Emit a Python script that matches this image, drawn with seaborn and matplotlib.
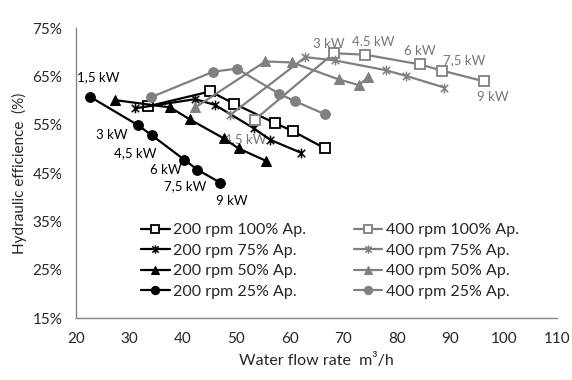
import pandas as pd
import matplotlib
matplotlib.use("Agg")
import matplotlib.pyplot as plt
from matplotlib.path import Path
import seaborn as sns

# 200 rpm series
q_200_100 = [33.4, 45.1, 49.5, 57.3, 60.5, 66.6]
e_200_100 = [58.8, 61.9, 59.4, 55.3, 53.7, 50.1]
q_200_75 = [31.0, 42.3, 46.0, 53.2, 56.3, 62.1]
e_200_75 = [58.4, 60.3, 59.1, 54.3, 51.9, 49.2]
q_200_50 = [27.3, 37.6, 41.3, 47.6, 50.4, 55.6]
e_200_50 = [60.1, 58.6, 56.1, 52.2, 50.1, 47.5]
q_200_25 = [22.6, 31.6, 34.2, 40.2, 42.7, 47.0]
e_200_25 = [60.8, 54.9, 52.8, 47.8, 45.7, 43.0]

# 400 rpm series
q_400_100 = [53.4, 68.2, 74.1, 84.3, 88.5, 96.3]
e_400_100 = [56.0, 69.8, 69.5, 67.5, 66.2, 64.0]
q_400_75 = [48.8, 62.9, 68.5, 77.9, 81.8, 88.9]
e_400_75 = [57.0, 69.0, 68.3, 66.3, 65.1, 62.7]
q_400_50 = [42.3, 55.4, 60.4, 69.1, 72.9, 74.6]
e_400_50 = [58.6, 68.1, 67.9, 64.4, 63.2, 64.8]
q_400_25 = [34.0, 45.7, 50.1, 58.0, 60.9, 66.5]
e_400_25 = [60.7, 66.0, 66.6, 61.4, 59.9, 57.2]

series = [
    ("200 rpm 100% Ap.", q_200_100, e_200_100, "black", "s"),
    ("200 rpm 75% Ap.", q_200_75, e_200_75, "black", "*"),
    ("200 rpm 50% Ap.", q_200_50, e_200_50, "black", "^"),
    ("200 rpm 25% Ap.", q_200_25, e_200_25, "black", "o"),
    ("400 rpm 100% Ap.", q_400_100, e_400_100, "gray", "s"),
    ("400 rpm 75% Ap.", q_400_75, e_400_75, "gray", "*"),
    ("400 rpm 50% Ap.", q_400_50, e_400_50, "gray", "^"),
    ("400 rpm 25% Ap.", q_400_25, e_400_25, "gray", "o"),
]

power_labels_200 = ["1,5 kW", "3 kW", "4,5 kW", "6 kW", "7,5 kW", "9 kW"]
power_pos_200 = [(24.1, 64.9), (26.7, 52.9), (31.0, 49.2), (36.7, 45.6), (40.4, 42.3), (49.2, 39.2)]
power_labels_400 = ["4,5 kW", "3 kW", "4.5 kW", "6 kW", "7,5 kW", "9 kW"]
power_pos_400 = [(51.6, 52.1), (67.2, 71.7), (75.6, 72.1), (84.4, 70.3), (92.7, 68.4), (97.9, 60.8)]

sns.set_style("white")
plt.rcParams["font.family"] = ["Lato", "DejaVu Sans"]

colors = {"black": "#000000", "gray": "#808080"}

# Excel-like star: an x with a vertical bar
star = Path([(-1, -1), (1, 1), (-1, 1), (1, -1), (0, -1.3), (0, 1.3)],
            [Path.MOVETO, Path.LINETO, Path.MOVETO, Path.LINETO, Path.MOVETO, Path.LINETO])

fig = plt.figure(figsize=(5.72, 3.8), dpi=100)
ax = fig.add_axes([0.133, 0.163, 0.841, 0.763])

for name, q, e, col, mk in series:
    df = pd.DataFrame({"q": q, "e": e})
    c = colors[col]
    if mk == "*":
        sns.lineplot(data=df, x="q", y="e", ax=ax, sort=False, color=c, lw=1.6,
                     marker=star, markersize=7, markeredgewidth=1.1,
                     markeredgecolor=c, markerfacecolor="none", label=name, zorder=3)
    elif mk == "s":
        sns.lineplot(data=df, x="q", y="e", ax=ax, sort=False, color=c, lw=1.6,
                     marker="s", markersize=7.5, markerfacecolor="white",
                     markeredgecolor=c, markeredgewidth=1.3, label=name, zorder=3)
    else:
        sns.lineplot(data=df, x="q", y="e", ax=ax, sort=False, color=c, lw=1.6,
                     marker=mk, markersize=7, markerfacecolor=c,
                     markeredgecolor=c, label=name, zorder=3)

for t, (x, y) in zip(power_labels_200, power_pos_200):
    ax.text(x, y, t, ha="center", va="center", fontsize=9.5, color="black", zorder=2)
for t, (x, y) in zip(power_labels_400, power_pos_400):
    ax.text(x, y, t, ha="center", va="center", fontsize=9.5, color="#767676", zorder=2)

ax.set_xlim(20, 110)
ax.set_ylim(15, 75)
ax.set_xticks(range(20, 111, 10))
ax.set_yticks(range(15, 76, 10))
ax.set_yticklabels([f"{v}%" for v in range(15, 76, 10)])
ax.tick_params(axis="both", length=0, labelsize=11, pad=10)
ax.set_xlabel("Water flow rate  m³/h", fontsize=11.5, labelpad=5)
ax.set_ylabel("Hydraulic efficience  (%)", fontsize=11, labelpad=4)

for s in ["top", "right"]:
    ax.spines[s].set_visible(False)
for s in ["left", "bottom"]:
    ax.spines[s].set_color("#868686")
    ax.spines[s].set_linewidth(1.0)

leg = ax.legend(loc="upper left", bbox_to_anchor=(0.118, 0.355), ncol=2, frameon=False,
                fontsize=11.5, handlelength=1.8, columnspacing=3.0, labelspacing=0.4,
                handletextpad=0.2, borderpad=0, markerscale=0.85)

fig.savefig("out.png", dpi=100)
